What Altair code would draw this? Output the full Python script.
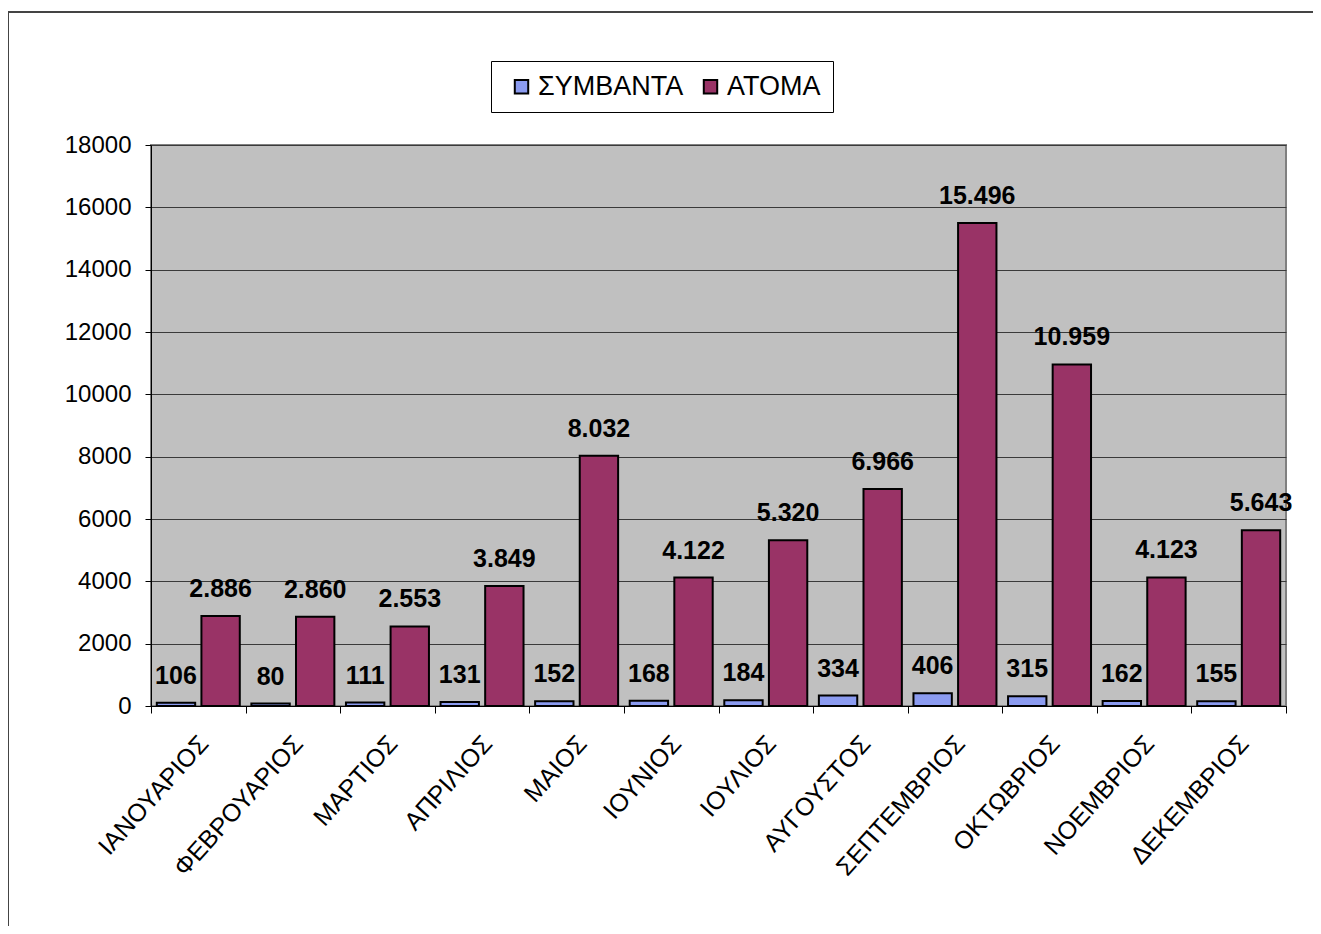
import altair as alt
import pandas as pd

months = ["ΙΑΝΟΥΑΡΙΟΣ", "ΦΕΒΡΟΥΑΡΙΟΣ", "ΜΑΡΤΙΟΣ", "ΑΠΡΙΛΙΟΣ", "ΜΑΙΟΣ", "ΙΟΥΝΙΟΣ",
          "ΙΟΥΛΙΟΣ", "ΑΥΓΟΥΣΤΟΣ", "ΣΕΠΤΕΜΒΡΙΟΣ", "ΟΚΤΩΒΡΙΟΣ", "ΝΟΕΜΒΡΙΟΣ", "ΔΕΚΕΜΒΡΙΟΣ"]
series = ["ΣΥΜΒΑΝΤΑ", "ΑΤΟΜΑ"]
symvanta = [106, 80, 111, 131, 152, 168, 184, 334, 406, 315, 162, 155]
atoma = [2886, 2860, 2553, 3849, 8032, 4122, 5320, 6966, 15496, 10959, 4123, 5643]
colors = ["#8b9bf0", "#993366"]

rows = []
for m, a, b in zip(months, symvanta, atoma):
    rows.append({"month": m, "series": series[0], "value": a,
                 "label": f"{a:,}".replace(",", ".")})
    rows.append({"month": m, "series": series[1], "value": b,
                 "label": f"{b:,}".replace(",", ".")})
df = pd.DataFrame(rows)

FONT = "Liberation Sans"
W, H = 1135, 561

x = alt.X("month:N", sort=months, title=None,
          scale=alt.Scale(paddingInner=0, paddingOuter=0),
          axis=alt.Axis(labelAngle=-48, labelAlign="right", labelBaseline="middle",
                        labelFontSize=25, labelFont=FONT, labelColor="#000",
                        labelPadding=26, labelOffset=5,
                        tickBand="extent", tickColor="#000", tickSize=7,
                        domainColor="#000", grid=False, labelLimit=400))
xo = alt.XOffset("series:N", sort=series,
                 scale=alt.Scale(paddingInner=0.14, paddingOuter=0.13))
y = alt.Y("value:Q", title=None,
          scale=alt.Scale(domain=[0, 18000], nice=False),
          axis=alt.Axis(values=list(range(0, 18001, 2000)), format="d",
                        labelFontSize=24, labelFont=FONT, labelColor="#000",
                        labelPadding=14, tickColor="#000", tickSize=6,
                        domainColor="#000", gridColor="#3a3a3a", gridWidth=1.2))

base = alt.Chart(df)

bars = base.mark_bar(stroke="#000", strokeWidth=2).encode(
    x=x, xOffset=xo, y=y,
    color=alt.Color("series:N", sort=series,
                    scale=alt.Scale(domain=series, range=colors),
                    legend=alt.Legend(title=None, orient="none", legendX=340, legendY=-84,
                                      direction="horizontal", symbolType="square",
                                      symbolSize=180, symbolStrokeColor="#000",
                                      symbolStrokeWidth=2, symbolOffset=5,
                                      labelFontSize=27, labelFont=FONT, labelColor="#000",
                                      labelOffset=3, columnPadding=8,
                                      padding=12, strokeColor="#000",
                                      fillColor="#fff"))
)

texts = base.mark_text(fontSize=25, font=FONT, fontWeight="bold", color="#000",
                       baseline="middle", dy=-27).encode(
    x=x, xOffset=xo, y=y, text="label:N"
)

one = pd.DataFrame({"a": [0]})
frame_top = alt.Chart(one).mark_rule(color="#444", strokeWidth=2, clip=False).encode(
    x=alt.value(-143), x2=alt.value(1300), y=alt.value(-133))
frame_left = alt.Chart(one).mark_rule(color="#444", strokeWidth=2, clip=False).encode(
    x=alt.value(-143), y=alt.value(-133), y2=alt.value(900))

chart = alt.layer(frame_top, frame_left, bars, texts).properties(
    width=W, height=H,
    padding={"left": 143, "top": 137, "right": 27, "bottom": 220},
    autosize=alt.AutoSizeParams(type="none"),
    background="#ffffff"
).configure_view(fill="#c0c0c0", stroke="#808080", strokeWidth=2)

chart.save("out.html", embed_options={"renderer": "svg", "actions": False})
